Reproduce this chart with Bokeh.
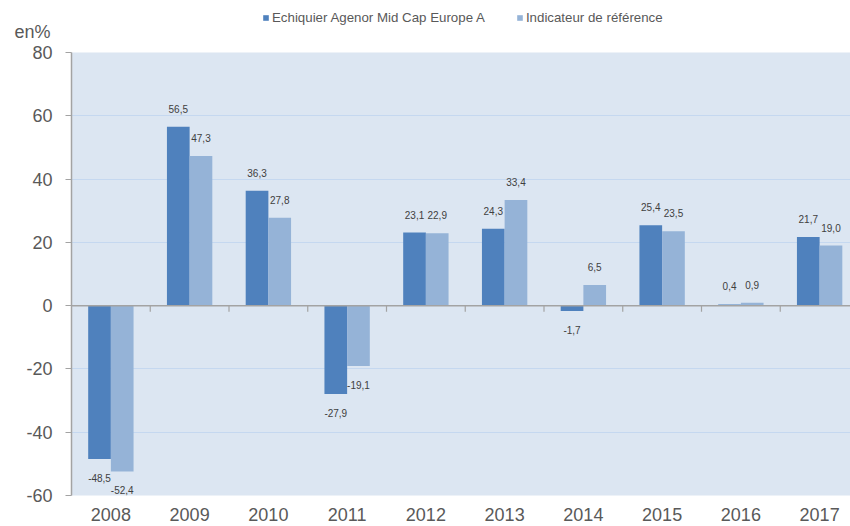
from bokeh.plotting import figure
from bokeh.layouts import column
from bokeh.models import ColumnDataSource, FixedTicker, Span, Legend, LegendItem
from bokeh.core.properties import value
from bokeh.embed import file_html
from bokeh.resources import INLINE
import math

years = ["2008", "2009", "2010", "2011", "2012", "2013", "2014", "2015", "2016", "2017"]
fund = [-48.5, 56.5, 36.3, -27.9, 23.1, 24.3, -1.7, 25.4, 0.4, 21.7]
benchmark = [-52.4, 47.3, 27.8, -19.1, 22.9, 33.4, 6.5, 23.5, 0.9, 19.0]
series_names = ["Echiquier Agenor Mid Cap Europe A", "Indicateur de référence"]
y_ticks = [-60, -40, -20, 0, 20, 40, 60, 80]
unit_label = "en%"

FONT = "Liberation Sans"
DARK = "#4f81bd"
LIGHT = "#95b3d7"
BG = "#dce6f2"
GRID = "#c5d8f0"
AXIS = "#a3a3a3"
TXT = "#595959"

BAR_W = 0.288
n = len(years)
idx = list(range(n))
X_RANGE = (-0.5, -0.5 + 779 / 78.75)

# header strip: a 42 px tall band whose (off-data) y range is in pixels
HEADER_H = 42
HEADER_Y0 = 100
UNIT_TICK = HEADER_Y0 + HEADER_H - 33   # unit label 33 px below the top


def fmt(v):
    return f"{v:.1f}".replace(".", ",")


src_a = ColumnDataSource(dict(x=[i - BAR_W / 2 for i in idx], top=fund,
                              lab=[fmt(v) for v in fund],
                              off=[-18 if v >= 0 else 19 for v in fund]))
src_b = ColumnDataSource(dict(x=[i + BAR_W / 2 for i in idx], top=benchmark,
                              lab=[fmt(v) for v in benchmark],
                              off=[-18 if v >= 0 else 19 for v in benchmark]))

# ---- header: legend + unit label (bars there lie outside its y range) ----
h = figure(width=850, height=HEADER_H, output_backend="svg", toolbar_location=None,
           x_range=X_RANGE, y_range=(HEADER_Y0, HEADER_Y0 + HEADER_H),
           x_axis_location=None, min_border=0, outline_line_color=None)
h.xgrid.grid_line_color = None
h.ygrid.grid_line_color = None
h.background_fill_color = "white"
h.yaxis.ticker = FixedTicker(ticks=[UNIT_TICK])
h.yaxis.major_label_overrides = {UNIT_TICK: unit_label}
h.yaxis.axis_line_color = None
h.yaxis.major_tick_line_color = None
h.yaxis.minor_tick_line_color = None
h.yaxis.major_tick_out = 0
h.yaxis.major_tick_in = 0
h.yaxis.major_label_standoff = 21
h.yaxis.major_label_text_font = FONT
h.yaxis.major_label_text_font_size = "18px"
h.yaxis.major_label_text_color = TXT

da = h.vbar(x="x", top="top", bottom=0, width=BAR_W, source=src_a, fill_color=DARK,
            line_color=None)
db = h.vbar(x="x", top="top", bottom=0, width=BAR_W, source=src_b, fill_color=LIGHT,
            line_color=None)
lg = Legend(items=[LegendItem(label=series_names[0], renderers=[da]),
                   LegendItem(label=series_names[1], renderers=[db])],
            location=(191, 17), orientation="horizontal",
            glyph_width=7, glyph_height=7, label_height=14, label_standoff=3,
            spacing=31, padding=0, margin=0, border_line_color=None,
            background_fill_alpha=0, label_text_font=FONT,
            label_text_font_size="13.3px", label_text_color=TXT)
h.add_layout(lg)

# ---- main chart ----
p = figure(width=850, height=526 - HEADER_H, output_backend="svg", toolbar_location=None,
           x_range=X_RANGE, y_range=(y_ticks[0], y_ticks[-1]),
           min_border_left=71, min_border_right=0, min_border_top=10, min_border_bottom=31)
p.background_fill_color = BG
p.border_fill_color = "white"
p.outline_line_color = None

p.vbar(x="x", top="top", bottom=0, width=BAR_W, source=src_a, fill_color=DARK,
       line_color=None)
p.vbar(x="x", top="top", bottom=0, width=BAR_W, source=src_b, fill_color=LIGHT,
       line_color=None)

for s in (src_a, src_b):
    p.text(x="x", y="top", text="lab", source=s, y_offset="off", text_align="center",
           text_baseline="middle", text_font=value(FONT), text_font_size="10px",
           text_color="#404040")

# zero line with category boundary ticks
p.add_layout(Span(location=0, dimension="width", line_color=AXIS, line_width=1.5))
p.ray(x=[i + 0.5 for i in idx[:-1]], y=0, length=6, length_units="screen",
      angle=-math.pi / 2, line_color=AXIS, line_width=1.2)

# y axis
p.yaxis.ticker = FixedTicker(ticks=y_ticks)
p.yaxis.major_label_overrides = {t: str(t) for t in y_ticks}
p.yaxis.minor_tick_line_color = None
p.yaxis.major_tick_out = 6
p.yaxis.major_tick_in = 0
p.yaxis.major_tick_line_color = AXIS
p.yaxis.axis_line_color = AXIS
p.yaxis.axis_line_width = 1.5
p.yaxis.major_label_standoff = 13
p.yaxis.major_label_text_font = FONT
p.yaxis.major_label_text_font_size = "18px"
p.yaxis.major_label_text_color = TXT

# x axis
p.xaxis.ticker = FixedTicker(ticks=idx)
p.xaxis.major_label_overrides = {i: y for i, y in zip(idx, years)}
p.xaxis.minor_tick_line_color = None
p.xaxis.major_tick_line_color = None
p.xaxis.major_tick_out = 0
p.xaxis.major_tick_in = 0
p.xaxis.axis_line_color = None
p.xaxis.major_label_standoff = 12
p.xaxis.major_label_text_font = FONT
p.xaxis.major_label_text_font_size = "18px"
p.xaxis.major_label_text_color = TXT

p.xgrid.grid_line_color = None
p.ygrid.grid_line_color = GRID
p.ygrid.grid_line_width = 1

open("out.html", "w").write(file_html(column(h, p, spacing=0), INLINE))
